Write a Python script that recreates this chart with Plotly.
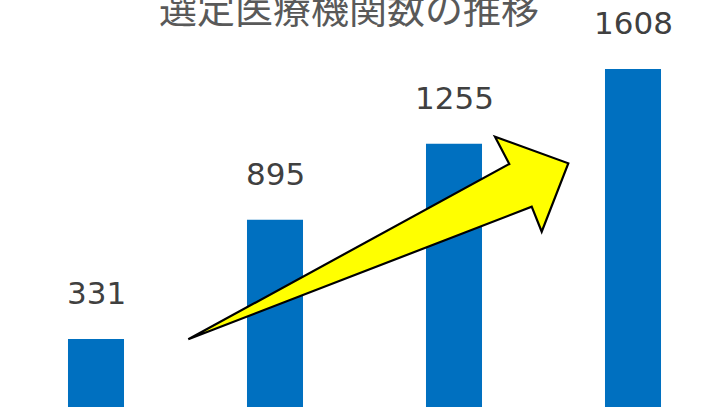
import plotly.graph_objects as go

# Number of selected medical institutions per period
categories = ["1", "2", "3", "4"]
counts = [331, 895, 1255, 1608]
title_text = "選定医療機関数の推移"

W, H = 719, 407

fig = go.Figure()
fig.add_trace(go.Bar(
    x=list(range(len(categories))),
    y=counts,
    marker=dict(color="#0070C0", line=dict(width=0)),
    width=0.313,
    hoverinfo="skip",
))

# value labels above each bar
for i, v in enumerate(counts):
    fig.add_annotation(
        x=i, y=v, text=str(v), showarrow=False,
        xanchor="center", yanchor="bottom", yshift=26,
        font=dict(family="DejaVu Sans", size=31, color="#404040"),
    )

# title, partly above the top edge
fig.add_annotation(
    xref="paper", yref="paper", x=348.5 / W, y=1 + 23 / H,
    text=title_text, showarrow=False, xanchor="center", yanchor="top",
    font=dict(family="Noto Sans CJK JP", size=38, color="#595959"),
)

# rising arrow drawn over the bars (pixel outline converted to paper units)
pts = [(188.3, 339.3), (509.3, 164.0), (495.0, 136.7), (568.3, 163.3),
       (541.7, 231.7), (531.7, 206.7)]
path = "M " + " L ".join(f"{x / W:.5f},{1 - y / H:.5f}" for x, y in pts) + " Z"
fig.add_shape(type="path", xref="paper", yref="paper", path=path,
              fillcolor="#FFFF00", line=dict(color="#000000", width=2.2),
              layer="above")

px_per_cat = 179.0
x0 = 96.0
px_per_unit = 0.2114
zero_px = 409.0
fig.update_layout(
    width=W, height=H,
    margin=dict(l=0, r=0, t=0, b=0),
    paper_bgcolor="white", plot_bgcolor="white",
    showlegend=False,
    xaxis=dict(range=[-x0 / px_per_cat, (W - x0) / px_per_cat], visible=False, fixedrange=True),
    yaxis=dict(range=[(zero_px - H) / px_per_unit, zero_px / px_per_unit], visible=False, fixedrange=True),
)

fig.write_html("out.html")
